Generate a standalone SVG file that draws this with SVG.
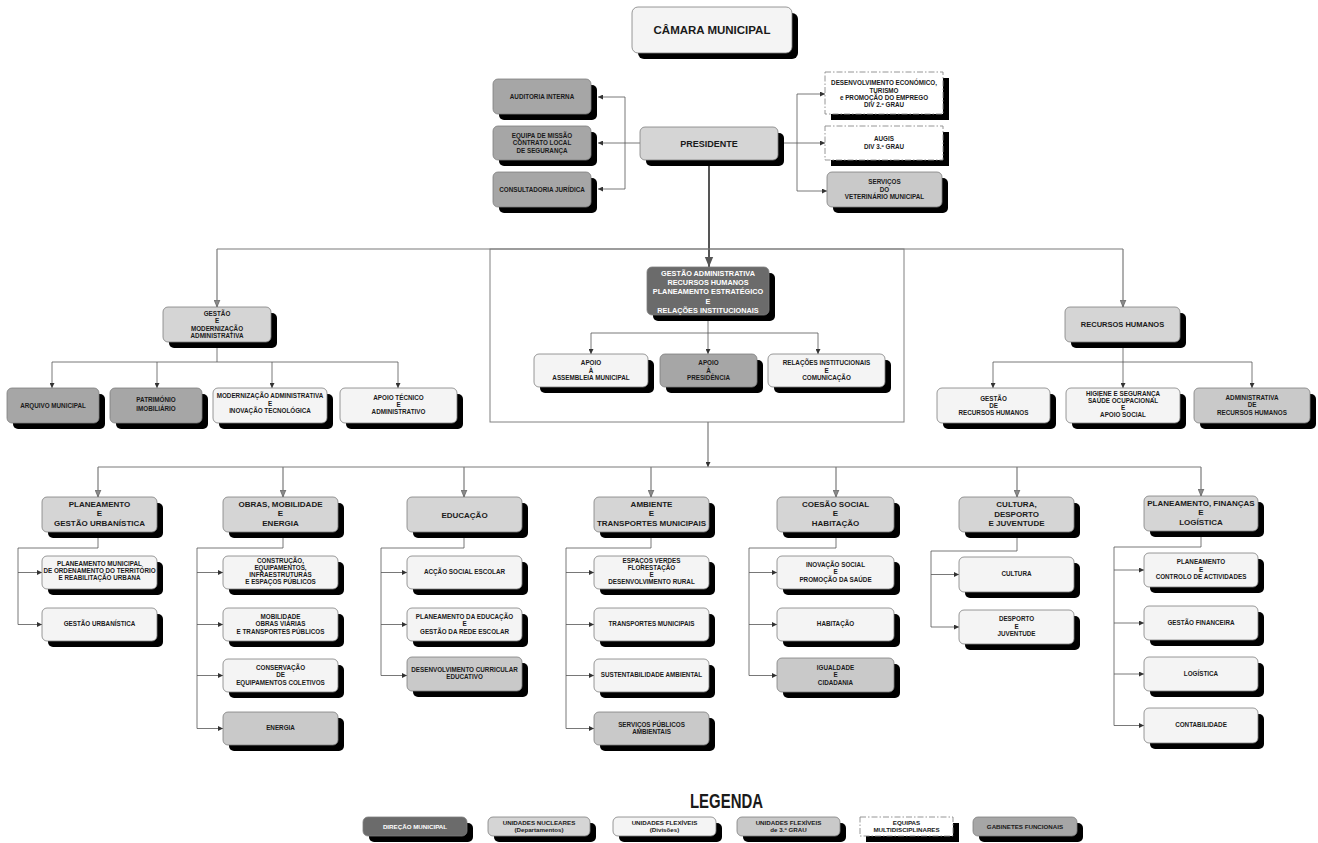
<svg xmlns="http://www.w3.org/2000/svg" width="1318" height="843" viewBox="0 0 1318 843">
<style>
.sh{fill:#000}
.b{stroke:#7f7f7f;stroke-width:0.8}
.dir{fill:#6b6b6b}
.gab{fill:#a6a6a6}
.nuc{fill:#d5d5d5}
.flex{fill:#f4f4f4}
.g3{fill:#c9c9c9}
.eq{fill:#fff;stroke:#8a8a8a;stroke-width:0.9;stroke-dasharray:6 2 1.5 2}
text{font-family:"Liberation Sans",Arial,sans-serif;font-weight:bold;text-anchor:middle;fill:#1a1a1a}
.s{font-size:6.3px}
.h{font-size:8px}
.l{font-size:6.2px}
.w{fill:#fff}
.c{fill:none;stroke:#555;stroke-width:0.8}
.m{fill:none;stroke:#7a7a7a;stroke-width:1.2}
</style>
<defs>
<marker id="a" viewBox="0 0 6 6" refX="6" refY="3" markerWidth="5" markerHeight="5" markerUnits="userSpaceOnUse" orient="auto"><path d="M0,0 L6,3 L0,6 z" fill="#333"/></marker>
<marker id="am" viewBox="0 0 6 6" refX="6" refY="3" markerWidth="7" markerHeight="7" markerUnits="userSpaceOnUse" orient="auto"><path d="M0,0.5 L6,3 L0,5.5 z" fill="#8a8a8a" stroke="#555" stroke-width="0.5"/></marker>
<marker id="ab" viewBox="0 0 6 6" refX="6" refY="3" markerWidth="10" markerHeight="10" markerUnits="userSpaceOnUse" orient="auto"><path d="M0,0.5 L6,3 L0,5.5 z" fill="#555"/></marker>
</defs>
<rect width="1318" height="843" fill="#fff"/>

<g id="connectors">
<rect x="490" y="249" width="414" height="173" fill="none" stroke="#808080" stroke-width="1"/>
<path class="c" d="M640 143 H625 M625 97 V189"/>
<path class="c" marker-end="url(#a)" d="M625 97 H598"/>
<path class="c" marker-end="url(#a)" d="M625 143 H598"/>
<path class="c" marker-end="url(#a)" d="M625 189 H598"/>
<path class="c" d="M778 143 H797 M797 94 V191"/>
<path class="c" marker-end="url(#a)" d="M797 94 H825"/>
<path class="c" marker-end="url(#a)" d="M797 143 H825"/>
<path class="c" marker-end="url(#a)" d="M797 191 H827"/>
<path fill="none" stroke="#555" stroke-width="2" marker-end="url(#ab)" d="M709 160 V267"/>
<path class="m" d="M217 249 H1123"/>
<path class="m" marker-end="url(#am)" d="M217 249 V307"/>
<path class="m" marker-end="url(#am)" d="M1123 249 V307"/>
<path class="c" d="M708 315 V333 M591 333 H818"/>
<path class="c" marker-end="url(#a)" d="M591 333 V354"/>
<path class="c" marker-end="url(#a)" d="M708 333 V354"/>
<path class="c" marker-end="url(#a)" d="M818 333 V354"/>
<path class="c" d="M217 342 V362 M52 362 H398"/>
<path class="c" marker-end="url(#a)" d="M52 362 V388"/>
<path class="c" marker-end="url(#a)" d="M157 362 V388"/>
<path class="c" marker-end="url(#a)" d="M272 362 V388"/>
<path class="c" marker-end="url(#a)" d="M398 362 V388"/>
<path class="c" d="M1123 342 V362 M993 362 H1252"/>
<path class="c" marker-end="url(#a)" d="M993 362 V388"/>
<path class="c" marker-end="url(#a)" d="M1123 362 V388"/>
<path class="c" marker-end="url(#a)" d="M1252 362 V388"/>
<path class="m" marker-end="url(#a)" d="M708 422 V467"/>
<path class="m" d="M98 467 H1201"/>
<path class="m" marker-end="url(#am)" d="M98 467 V497"/>
<path class="m" marker-end="url(#am)" d="M283 467 V497"/>
<path class="m" marker-end="url(#am)" d="M464 467 V497"/>
<path class="m" marker-end="url(#am)" d="M651 467 V497"/>
<path class="m" marker-end="url(#am)" d="M836 467 V497"/>
<path class="m" marker-end="url(#am)" d="M1017 467 V497"/>
<path class="m" marker-end="url(#am)" d="M1201 467 V496"/>
<path class="c" d="M98 532 V548 H18 V624.5"/>
<path class="c" marker-end="url(#a)" d="M18 572.5 H42"/>
<path class="c" marker-end="url(#a)" d="M18 624.5 H42"/>
<path class="c" d="M283 532 V548 H197 V728.5"/>
<path class="c" marker-end="url(#a)" d="M197 572.5 H223"/>
<path class="c" marker-end="url(#a)" d="M197 624.5 H223"/>
<path class="c" marker-end="url(#a)" d="M197 675.5 H223"/>
<path class="c" marker-end="url(#a)" d="M197 728.5 H223"/>
<path class="c" d="M464 532 V548 H381 V675.5"/>
<path class="c" marker-end="url(#a)" d="M381 572.5 H407"/>
<path class="c" marker-end="url(#a)" d="M381 624.5 H407"/>
<path class="c" marker-end="url(#a)" d="M381 675.5 H407"/>
<path class="c" d="M651 532 V548 H566 V728.5"/>
<path class="c" marker-end="url(#a)" d="M566 572.5 H594"/>
<path class="c" marker-end="url(#a)" d="M566 624.5 H594"/>
<path class="c" marker-end="url(#a)" d="M566 675.5 H594"/>
<path class="c" marker-end="url(#a)" d="M566 728.5 H594"/>
<path class="c" d="M836 532 V548 H749 V675.5"/>
<path class="c" marker-end="url(#a)" d="M749 572.5 H777"/>
<path class="c" marker-end="url(#a)" d="M749 624.5 H777"/>
<path class="c" marker-end="url(#a)" d="M749 675.5 H777"/>
<path class="c" d="M1017 532 V551 H931 V627"/>
<path class="c" marker-end="url(#a)" d="M931 574.5 H959"/>
<path class="c" marker-end="url(#a)" d="M931 627 H959"/>
<path class="c" d="M1201 531 V547 H1114 V725.5"/>
<path class="c" marker-end="url(#a)" d="M1114 570 H1144"/>
<path class="c" marker-end="url(#a)" d="M1114 623 H1144"/>
<path class="c" marker-end="url(#a)" d="M1114 674 H1144"/>
<path class="c" marker-end="url(#a)" d="M1114 725.5 H1144"/>
</g>

<g id="camara"><rect class="sh" x="638" y="13" width="160" height="46" rx="6"/><rect class="flex b" x="632" y="7" width="160" height="46" rx="6"/><text x="712" y="34" style="font-size:11.5px">CÂMARA MUNICIPAL</text></g>
<g id="presidente"><rect class="sh" x="646" y="133" width="138" height="33" rx="5"/><rect class="nuc b" x="640" y="127" width="138" height="33" rx="5"/><text x="709" y="146.7" style="font-size:9px">PRESIDENTE</text></g>
<g id="auditoria"><rect class="sh" x="499" y="85" width="98" height="35" rx="5"/><rect class="gab b" x="493" y="79" width="98" height="35" rx="5"/><text class="s" x="542" y="98.7">AUDITORIA INTERNA</text></g>
<g id="equipa-missao"><rect class="sh" x="499" y="132" width="98" height="34" rx="5"/><rect class="gab b" x="493" y="126" width="98" height="34" rx="5"/><text class="s"><tspan x="542" y="137.9">EQUIPA DE MISSÃO</tspan><tspan x="542" y="145.2">CONTRATO LOCAL</tspan><tspan x="542" y="152.5">DE SEGURANÇA</tspan></text></g>
<g id="consultadoria"><rect class="sh" x="499" y="178" width="98" height="35" rx="5"/><rect class="gab b" x="493" y="172" width="98" height="35" rx="5"/><text class="s" x="542" y="191.7">CONSULTADORIA JURÍDICA</text></g>
<g id="desenvolvimento"><rect class="sh" x="831" y="78" width="118" height="42"/><rect class="eq" x="825" y="72" width="118" height="42"/><text class="s"><tspan x="884" y="85.2">DESENVOLVIMENTO ECONÓMICO,</tspan><tspan x="884" y="92.5">TURISMO</tspan><tspan x="884" y="99.8">e PROMOÇÃO DO EMPREGO</tspan><tspan x="884" y="107.1">DIV 2.º GRAU</tspan></text></g>
<g id="augis"><rect class="sh" x="831" y="132" width="118" height="34"/><rect class="eq" x="825" y="126" width="118" height="34"/><text class="s"><tspan x="884" y="141.2">AUGIS</tspan><tspan x="884" y="148.8">DIV 3.º GRAU</tspan></text></g>
<g id="veterinario"><rect class="sh" x="833" y="178" width="115" height="35" rx="5"/><rect class="g3 b" x="827" y="172" width="115" height="35" rx="5"/><text class="s"><tspan x="884.5" y="184.2">SERVIÇOS</tspan><tspan x="884.5" y="191.5">DO</tspan><tspan x="884.5" y="198.8">VETERINÁRIO MUNICIPAL</tspan></text></g>

<g id="gestao-administrativa"><rect class="sh" x="653" y="273" width="122" height="48" rx="5"/><rect class="dir b" x="647" y="267" width="122" height="48" rx="5"/><text class="w" style="font-size:7.3px"><tspan x="708" y="275.9">GESTÃO ADMINISTRATIVA</tspan><tspan x="708" y="285.1">RECURSOS HUMANOS</tspan><tspan x="708" y="294.3">PLANEAMENTO ESTRATÉGICO</tspan><tspan x="708" y="303.5">E</tspan><tspan x="708" y="312.7">RELAÇÕES INSTITUCIONAIS</tspan></text></g>
<g id="apoio-assembleia"><rect class="sh" x="540" y="360" width="114" height="33" rx="5"/><rect class="flex b" x="534" y="354" width="114" height="33" rx="5"/><text class="s"><tspan x="591" y="365">APOIO</tspan><tspan x="591" y="372.5">À</tspan><tspan x="591" y="380">ASSEMBLEIA MUNICIPAL</tspan></text></g>
<g id="apoio-presidencia"><rect class="sh" x="666" y="360" width="97" height="33" rx="5"/><rect class="gab b" x="660" y="354" width="97" height="33" rx="5"/><text class="s"><tspan x="708.5" y="365">APOIO</tspan><tspan x="708.5" y="372.5">À</tspan><tspan x="708.5" y="380">PRESIDÊNCIA</tspan></text></g>
<g id="relacoes-institucionais"><rect class="sh" x="774" y="360" width="117" height="33" rx="5"/><rect class="flex b" x="768" y="354" width="117" height="33" rx="5"/><text class="s"><tspan x="826.5" y="365">RELAÇÕES INSTITUCIONAIS</tspan><tspan x="826.5" y="372.5">E</tspan><tspan x="826.5" y="380">COMUNICAÇÃO</tspan></text></g>

<g id="gestao-modernizacao"><rect class="sh" x="169" y="313" width="108" height="35" rx="5"/><rect class="nuc b" x="163" y="307" width="108" height="35" rx="5"/><text class="s"><tspan x="217" y="316.2">GESTÃO</tspan><tspan x="217" y="323.3">E</tspan><tspan x="217" y="330.6">MODERNIZAÇÃO</tspan><tspan x="217" y="338">ADMINISTRATIVA</tspan></text></g>
<g id="arquivo"><rect class="sh" x="13" y="394" width="92" height="35" rx="5"/><rect class="gab b" x="7" y="388" width="92" height="35" rx="5"/><text class="s" x="53" y="407.7">ARQUIVO MUNICIPAL</text></g>
<g id="patrimonio"><rect class="sh" x="116" y="394" width="92" height="35" rx="5"/><rect class="gab b" x="110" y="388" width="92" height="35" rx="5"/><text class="s"><tspan x="156" y="402.2">PATRIMÓNIO</tspan><tspan x="156" y="410.5">IMOBILIÁRIO</tspan></text></g>
<g id="modernizacao-administrativa"><rect class="sh" x="219" y="394" width="114" height="35" rx="5"/><rect class="flex b" x="213" y="388" width="114" height="35" rx="5"/><text class="s"><tspan x="270" y="398">MODERNIZAÇÃO ADMINISTRATIVA</tspan><tspan x="270" y="405.5">E</tspan><tspan x="270" y="413">INOVAÇÃO TECNOLÓGICA</tspan></text></g>
<g id="apoio-tecnico"><rect class="sh" x="346" y="394" width="117" height="35" rx="5"/><rect class="flex b" x="340" y="388" width="117" height="35" rx="5"/><text class="s"><tspan x="398.5" y="399.5">APOIO TÉCNICO</tspan><tspan x="398.5" y="406.7">E</tspan><tspan x="398.5" y="414">ADMINISTRATIVO</tspan></text></g>

<g id="recursos-humanos"><rect class="sh" x="1071" y="313" width="115" height="35" rx="5"/><rect class="nuc b" x="1065" y="307" width="115" height="35" rx="5"/><text x="1122.5" y="327.2" style="font-size:7.5px">RECURSOS HUMANOS</text></g>
<g id="gestao-rh"><rect class="sh" x="943" y="394" width="113" height="35" rx="5"/><rect class="flex b" x="937" y="388" width="113" height="35" rx="5"/><text class="s"><tspan x="993.5" y="400.5">GESTÃO</tspan><tspan x="993.5" y="407.5">DE</tspan><tspan x="993.5" y="415">RECURSOS HUMANOS</tspan></text></g>
<g id="higiene-seguranca"><rect class="sh" x="1072" y="394" width="114" height="35" rx="5"/><rect class="flex b" x="1066" y="388" width="114" height="35" rx="5"/><text class="s"><tspan x="1123" y="395.5">HIGIENE E SEGURANÇA</tspan><tspan x="1123" y="402.5">SAÚDE OCUPACIONAL</tspan><tspan x="1123" y="409.5">E</tspan><tspan x="1123" y="416.5">APOIO SOCIAL</tspan></text></g>
<g id="administrativa-rh"><rect class="sh" x="1200" y="394" width="116" height="35" rx="5"/><rect class="g3 b" x="1194" y="388" width="116" height="35" rx="5"/><text class="s"><tspan x="1252" y="399.5">ADMINISTRATIVA</tspan><tspan x="1252" y="406.7">DE</tspan><tspan x="1252" y="414.5">RECURSOS HUMANOS</tspan></text></g>

<g id="planeamento-gestao-urbanistica"><rect class="sh" x="48" y="503" width="115" height="35" rx="5"/><rect class="nuc b" x="42" y="497" width="115" height="35" rx="5"/><text class="h"><tspan x="99.5" y="506.6">PLANEAMENTO</tspan><tspan x="99.5" y="516.1">E</tspan><tspan x="99.5" y="525.6">GESTÃO URBANÍSTICA</tspan></text></g>
<g id="planeamento-municipal"><rect class="sh" x="48" y="562" width="115" height="33" rx="5"/><rect class="flex b" x="42" y="556" width="115" height="33" rx="5"/><text class="s"><tspan x="99.5" y="565.5">PLANEAMENTO MUNICIPAL</tspan><tspan x="99.5" y="572.8">DE ORDENAMENTO DO TERRITÓRIO</tspan><tspan x="99.5" y="580.1">E REABILITAÇÃO URBANA</tspan></text></g>
<g id="gestao-urbanistica"><rect class="sh" x="48" y="614" width="115" height="33" rx="5"/><rect class="flex b" x="42" y="608" width="115" height="33" rx="5"/><text class="s" x="99.5" y="626.2">GESTÃO URBANÍSTICA</text></g>

<g id="obras-mobilidade-energia"><rect class="sh" x="229" y="503" width="115" height="35" rx="5"/><rect class="nuc b" x="223" y="497" width="115" height="35" rx="5"/><text class="h"><tspan x="280.5" y="506.6">OBRAS, MOBILIDADE</tspan><tspan x="280.5" y="516.1">E</tspan><tspan x="280.5" y="525.6">ENERGIA</tspan></text></g>
<g id="construcao"><rect class="sh" x="229" y="562" width="115" height="33" rx="5"/><rect class="flex b" x="223" y="556" width="115" height="33" rx="5"/><text class="s"><tspan x="280.5" y="562.5">CONSTRUÇÃO,</tspan><tspan x="280.5" y="569.8">EQUIPAMENTOS,</tspan><tspan x="280.5" y="577.1">INFRAESTRUTURAS</tspan><tspan x="280.5" y="584.4">E ESPAÇOS PÚBLICOS</tspan></text></g>
<g id="mobilidade"><rect class="sh" x="229" y="614" width="115" height="33" rx="5"/><rect class="flex b" x="223" y="608" width="115" height="33" rx="5"/><text class="s"><tspan x="280.5" y="618.9">MOBILIDADE</tspan><tspan x="280.5" y="626.2">OBRAS VIÁRIAS</tspan><tspan x="280.5" y="633.5">E TRANSPORTES PÚBLICOS</tspan></text></g>
<g id="conservacao"><rect class="sh" x="229" y="665" width="115" height="33" rx="5"/><rect class="flex b" x="223" y="659" width="115" height="33" rx="5"/><text class="s"><tspan x="280.5" y="669.9">CONSERVAÇÃO</tspan><tspan x="280.5" y="677.2">DE</tspan><tspan x="280.5" y="684.5">EQUIPAMENTOS COLETIVOS</tspan></text></g>
<g id="energia"><rect class="sh" x="229" y="718" width="115" height="33" rx="5"/><rect class="g3 b" x="223" y="712" width="115" height="33" rx="5"/><text class="s" x="280.5" y="730.2">ENERGIA</text></g>

<g id="educacao"><rect class="sh" x="413" y="503" width="115" height="35" rx="5"/><rect class="nuc b" x="407" y="497" width="115" height="35" rx="5"/><text class="h" x="464.5" y="517.5">EDUCAÇÃO</text></g>
<g id="accao-social-escolar"><rect class="sh" x="413" y="562" width="115" height="33" rx="5"/><rect class="flex b" x="407" y="556" width="115" height="33" rx="5"/><text class="s" x="464.5" y="574.2">ACÇÃO SOCIAL ESCOLAR</text></g>
<g id="planeamento-educacao"><rect class="sh" x="413" y="614" width="115" height="33" rx="5"/><rect class="flex b" x="407" y="608" width="115" height="33" rx="5"/><text class="s"><tspan x="464.5" y="618.9">PLANEAMENTO DA EDUCAÇÃO</tspan><tspan x="464.5" y="626.2">E</tspan><tspan x="464.5" y="633.5">GESTÃO DA REDE ESCOLAR</tspan></text></g>
<g id="desenvolvimento-curricular"><rect class="sh" x="413" y="663" width="115" height="34" rx="5"/><rect class="g3 b" x="407" y="657" width="115" height="34" rx="5"/><text class="s"><tspan x="464.5" y="672">DESENVOLVIMENTO CURRICULAR</tspan><tspan x="464.5" y="679.3">EDUCATIVO</tspan></text></g>

<g id="ambiente-transportes"><rect class="sh" x="600" y="503" width="115" height="35" rx="5"/><rect class="nuc b" x="594" y="497" width="115" height="35" rx="5"/><text class="h"><tspan x="651.5" y="506.6">AMBIENTE</tspan><tspan x="651.5" y="516.1">E</tspan><tspan x="651.5" y="525.6">TRANSPORTES MUNICIPAIS</tspan></text></g>
<g id="espacos-verdes"><rect class="sh" x="600" y="562" width="115" height="33" rx="5"/><rect class="flex b" x="594" y="556" width="115" height="33" rx="5"/><text class="s"><tspan x="651.5" y="562.5">ESPAÇOS VERDES</tspan><tspan x="651.5" y="569.8">FLORESTAÇÃO</tspan><tspan x="651.5" y="577.1">E</tspan><tspan x="651.5" y="584.4">DESENVOLVIMENTO RURAL</tspan></text></g>
<g id="transportes-municipais"><rect class="sh" x="600" y="614" width="115" height="33" rx="5"/><rect class="flex b" x="594" y="608" width="115" height="33" rx="5"/><text class="s" x="651.5" y="626.2">TRANSPORTES MUNICIPAIS</text></g>
<g id="sustentabilidade"><rect class="sh" x="600" y="665" width="115" height="33" rx="5"/><rect class="flex b" x="594" y="659" width="115" height="33" rx="5"/><text class="s" x="651.5" y="677.2">SUSTENTABILIDADE AMBIENTAL</text></g>
<g id="servicos-publicos-ambientais"><rect class="sh" x="600" y="718" width="115" height="33" rx="5"/><rect class="g3 b" x="594" y="712" width="115" height="33" rx="5"/><text class="s"><tspan x="651.5" y="726.5">SERVIÇOS PÚBLICOS</tspan><tspan x="651.5" y="733.8">AMBIENTAIS</tspan></text></g>

<g id="coesao-social"><rect class="sh" x="783" y="503" width="117" height="35" rx="5"/><rect class="nuc b" x="777" y="497" width="117" height="35" rx="5"/><text class="h"><tspan x="835.5" y="506.6">COESÃO SOCIAL</tspan><tspan x="835.5" y="516.1">E</tspan><tspan x="835.5" y="525.6">HABITAÇÃO</tspan></text></g>
<g id="inovacao-social"><rect class="sh" x="783" y="562" width="117" height="33" rx="5"/><rect class="flex b" x="777" y="556" width="117" height="33" rx="5"/><text class="s"><tspan x="835.5" y="566.9">INOVAÇÃO SOCIAL</tspan><tspan x="835.5" y="574.2">E</tspan><tspan x="835.5" y="581.5">PROMOÇÃO DA SAÚDE</tspan></text></g>
<g id="habitacao"><rect class="sh" x="783" y="614" width="117" height="33" rx="5"/><rect class="flex b" x="777" y="608" width="117" height="33" rx="5"/><text class="s" x="835.5" y="626.2">HABITAÇÃO</text></g>
<g id="igualdade"><rect class="sh" x="783" y="664" width="117" height="34" rx="5"/><rect class="g3 b" x="777" y="658" width="117" height="34" rx="5"/><text class="s"><tspan x="835.5" y="669.9">IGUALDADE</tspan><tspan x="835.5" y="677.2">E</tspan><tspan x="835.5" y="684.5">CIDADANIA</tspan></text></g>

<g id="cultura-desporto"><rect class="sh" x="965" y="503" width="115" height="35" rx="5"/><rect class="nuc b" x="959" y="497" width="115" height="35" rx="5"/><text class="h"><tspan x="1016.5" y="507.3">CULTURA,</tspan><tspan x="1016.5" y="516.6">DESPORTO</tspan><tspan x="1016.5" y="525.9">E JUVENTUDE</tspan></text></g>
<g id="cultura"><rect class="sh" x="965" y="563" width="115" height="35" rx="5"/><rect class="flex b" x="959" y="557" width="115" height="35" rx="5"/><text class="s" x="1016.5" y="576.2">CULTURA</text></g>
<g id="desporto-juventude"><rect class="sh" x="965" y="616" width="115" height="34" rx="5"/><rect class="flex b" x="959" y="610" width="115" height="34" rx="5"/><text class="s"><tspan x="1016.5" y="621.4">DESPORTO</tspan><tspan x="1016.5" y="628.7">E</tspan><tspan x="1016.5" y="636">JUVENTUDE</tspan></text></g>

<g id="planeamento-financas"><rect class="sh" x="1150" y="502" width="114" height="35" rx="5"/><rect class="nuc b" x="1144" y="496" width="114" height="35" rx="5"/><text class="h"><tspan x="1201" y="506">PLANEAMENTO, FINANÇAS</tspan><tspan x="1201" y="515.4">E</tspan><tspan x="1201" y="524.7">LOGÍSTICA</tspan></text></g>
<g id="planeamento-controlo"><rect class="sh" x="1150" y="559" width="114" height="34" rx="5"/><rect class="flex b" x="1144" y="553" width="114" height="34" rx="5"/><text class="s"><tspan x="1201" y="564.4">PLANEAMENTO</tspan><tspan x="1201" y="571.7">E</tspan><tspan x="1201" y="579">CONTROLO DE ACTIVIDADES</tspan></text></g>
<g id="gestao-financeira"><rect class="sh" x="1150" y="612" width="114" height="34" rx="5"/><rect class="flex b" x="1144" y="606" width="114" height="34" rx="5"/><text class="s" x="1201" y="624.7">GESTÃO FINANCEIRA</text></g>
<g id="logistica"><rect class="sh" x="1150" y="663" width="114" height="34" rx="5"/><rect class="flex b" x="1144" y="657" width="114" height="34" rx="5"/><text class="s" x="1201" y="675.7">LOGÍSTICA</text></g>
<g id="contabilidade"><rect class="sh" x="1150" y="714" width="114" height="35" rx="5"/><rect class="flex b" x="1144" y="708" width="114" height="35" rx="5"/><text class="s" x="1201" y="727.2">CONTABILIDADE</text></g>

<g id="legenda">
<text x="726.5" y="808" style="font-size:20px" textLength="73" lengthAdjust="spacingAndGlyphs">LEGENDA</text>
<g id="leg-direcao"><rect class="sh" x="369" y="823" width="104" height="19" rx="5"/><rect class="dir b" x="363" y="817" width="104" height="19" rx="5"/><text class="l w" x="415" y="828.7">DIREÇÃO MUNICIPAL</text></g>
<g id="leg-nucleares"><rect class="sh" x="494" y="823" width="102" height="19" rx="5"/><rect class="nuc b" x="488" y="817" width="102" height="19" rx="5"/><text class="l"><tspan x="539" y="824.8">UNIDADES NUCLEARES</tspan><tspan x="539" y="831.8">(Departamentos)</tspan></text></g>
<g id="leg-flexiveis"><rect class="sh" x="619" y="823" width="103" height="19" rx="5"/><rect class="flex b" x="613" y="817" width="103" height="19" rx="5"/><text class="l"><tspan x="664.5" y="824.8">UNIDADES FLEXÍVEIS</tspan><tspan x="664.5" y="831.8">(Divisões)</tspan></text></g>
<g id="leg-3grau"><rect class="sh" x="743" y="823" width="103" height="19" rx="5"/><rect class="g3 b" x="737" y="817" width="103" height="19" rx="5"/><text class="l"><tspan x="788.5" y="824.8">UNIDADES FLEXÍVEIS</tspan><tspan x="788.5" y="831.8">de 3.º GRAU</tspan></text></g>
<g id="leg-equipas"><rect class="sh" x="866" y="823" width="93" height="19"/><rect class="eq" x="860" y="817" width="93" height="19"/><text class="l"><tspan x="906.5" y="824.8">EQUIPAS</tspan><tspan x="906.5" y="831.8">MULTIDISCIPLINARES</tspan></text></g>
<g id="leg-gabinetes"><rect class="sh" x="979" y="823" width="104" height="19" rx="5"/><rect class="gab b" x="973" y="817" width="104" height="19" rx="5"/><text class="l" x="1025" y="828.7">GABINETES FUNCIONAIS</text></g>
</g>
</svg>
